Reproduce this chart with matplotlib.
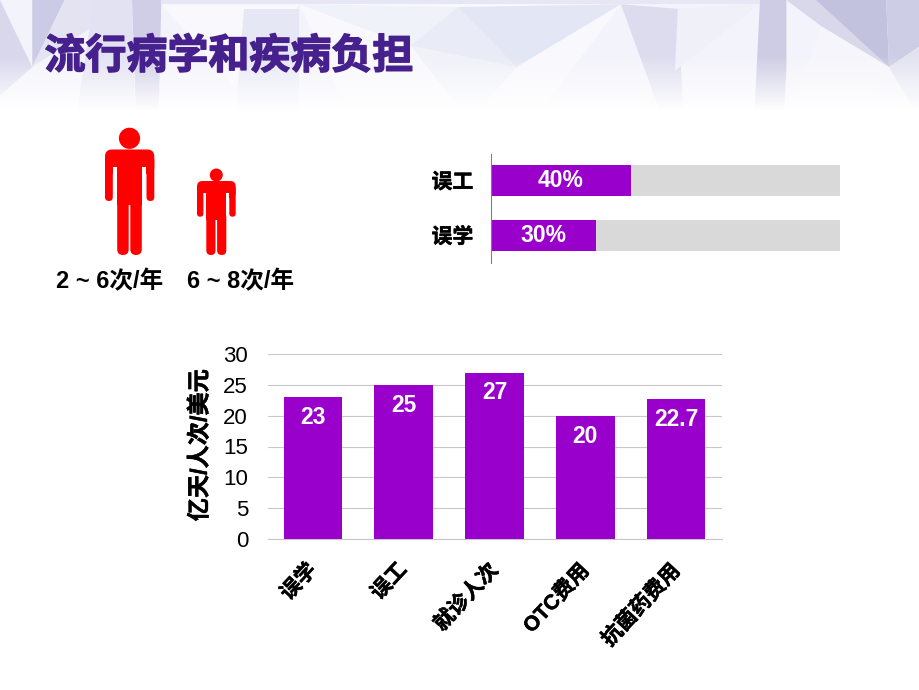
import numpy as np
import matplotlib
matplotlib.use("Agg")
import matplotlib.pyplot as plt
from matplotlib.patches import Polygon, Circle, FancyBboxPatch, Rectangle
from matplotlib.transforms import ScaledTranslation
import matplotlib.patheffects as pe

FONT = ['Liberation Sans', 'Noto Sans CJK SC', 'DejaVu Sans']
plt.rcParams['font.family'] = FONT

TITLE = '流行病学和疾病负担'
bar_cats = ['误学', '误工', '就诊人次', 'OTC费用', '抗菌药费用']
bar_vals = [23, 25, 27, 20, 22.7]
bar_labels = ['23', '25', '27', '20', '22.7']
y_ticks = [0, 5, 10, 15, 20, 25, 30]
y_title = '亿天/人次/美元'
h_cats = ['误学', '误工']
h_vals = [30, 40]
h_total = [100, 100]
freq_labels = ['2 ~ 6次/年', '6 ~ 8次/年']

PURPLE = '#9900cc'
GRAY = '#d9d9d9'
RED = '#ff0000'

W, H = 920, 690
fig = plt.figure(figsize=(W/100, H/100), dpi=100, facecolor='white')
bold_edge = [pe.withStroke(linewidth=0.35, foreground='black')]

def axpx(x0, y0, x1, y1, **kw):
    return fig.add_axes([x0/W, 1-y1/H, (x1-x0)/W, (y1-y0)/H], **kw)

# ---- decorative background, in pixel coordinates
bg = fig.add_axes([0, 0, 1, 1], zorder=0)
bg.set_xlim(0, W); bg.set_ylim(H, 0); bg.axis('off')
bg.add_patch(Rectangle((0, 0), W, 118, fc='#f3f3fb', ec='none'))
facets = [
    ([(0,0),(55,190),(0,270)], '#d8d7ec'),
    ([(55,0),(110,0),(55,190)], '#cbcbe5'),
    ([(110,0),(225,0),(55,190)], '#e4e3f2'),
    ([(160,0),(225,0),(230,330),(130,330)], '#e3e2f2'),
    ([(225,0),(275,0),(270,340),(232,340)], '#d0cee7'),
    ([(275,0),(1295,0),(1295,12),(275,12)], '#e7e6f4'),
    ([(275,12),(510,12),(400,250)], '#f8f8fd'),
    ([(415,25),(510,25),(510,340),(400,340)], '#e6e7f4'),
    ([(510,12),(1058,12),(910,340),(600,340)], '#f8f8fd'),
    ([(510,12),(780,20),(700,130)], '#f0f2f9'),
    ([(780,20),(1058,12),(880,190)], '#e3e6f4'),
    ([(780,20),(880,190),(700,130)], '#e9ebf6'),
    ([(700,130),(880,190),(800,340)], '#f0f1f9'),
    ([(1058,12),(1155,25),(1165,340),(1130,340)], '#dcdcee'),
    ([(1155,25),(1295,10),(1150,200)], '#f0f0f9'),
    ([(1295,0),(1340,0),(1340,200),(1335,340),(1285,340)], '#cdcce4'),
    ([(1340,0),(1390,0),(1515,190),(1400,75)], '#d9d8eb'),
    ([(1390,0),(1510,0),(1515,190)], '#c2c2df'),
    ([(1510,0),(1568,0),(1568,130),(1515,190)], '#cdcde5'),
    ([(1400,75),(1515,190),(1460,340),(1340,340)], '#f5f5fb'),
    ([(1515,190),(1568,130),(1568,340)], '#e2e2f1'),
]
# facet outlines were read from the 1568x340 zoom of the header band
for pts, c in facets:
    bg.add_patch(Polygon([(x/1.704, y/2.83) for x, y in pts], closed=True, fc=c, ec='none'))
# fade to white
fade = np.zeros((120, 2, 4)); fade[..., :3] = 1
fade[..., 3] = np.clip((np.arange(120)-55)/55, 0, 1)[:, None]
bg.imshow(fade, extent=(0, W, 120, 0), aspect='auto', zorder=3)
bg.add_patch(Rectangle((0, 112), W, H-112, fc='white', ec='none', zorder=4))
bg.set_xlim(0, W); bg.set_ylim(H, 0)

bg.text(44.5, 56.5, TITLE, fontsize=29.5, fontweight='black', color='#46208c',
        ha='left', va='center', zorder=6, family=['Noto Sans CJK SC'],
        path_effects=[pe.withStroke(linewidth=1.0, foreground='#46208c')])

# ---- person pictograms
def person(ax, cx, head_y, r, top, l, ri, inner, arm_bot, torso_half, split, bot, arm_w, sh_r):
    kw = dict(fc=RED, ec='none', zorder=5)
    ax.add_patch(Circle((cx, head_y), r, **kw))
    def rrect(x0, y0, x1, y1, pad):
        ax.add_patch(FancyBboxPatch((x0+pad, y0+pad), x1-x0-2*pad, y1-y0-2*pad,
                                    boxstyle=f'round,pad={pad}', **kw))
    rrect(l, top, ri, inner+sh_r, sh_r)
    ax.add_patch(Rectangle((l+arm_w, inner), ri-l-2*arm_w, 2*sh_r, fc='white', ec='none', zorder=5))
    rrect(l, top+sh_r, l+arm_w, arm_bot, arm_w/2)
    rrect(ri-arm_w, top+sh_r, ri, arm_bot, arm_w/2)
    ax.add_patch(Rectangle((cx-torso_half, top+2), 2*torso_half, split-top, **kw))
    leg = torso_half-0.8
    rrect(cx-torso_half, split-5, cx-0.8, bot, leg/2)
    rrect(cx+0.8, split-5, cx+torso_half, bot, leg/2)

person(bg, 129.5, 138.3, 10.6, 149.5, 105, 154.3, 167, 201, 12.3, 202.5, 255, 7.8, 7)
person(bg, 216.3, 175, 6.5, 181, 197, 235.7, 192.7, 216.7, 10, 217.7, 255, 6.4, 5.5)

for x, s in zip([110, 241], freq_labels):
    bg.text(x, 282, s, fontsize=17, fontweight='bold', ha='center', va='center',
            color='black', zorder=6, family=FONT)

# ---- horizontal bars
ax1 = axpx(491, 153.5, 840, 262.5, zorder=2)
ax1.patch.set_alpha(0)
y = np.arange(len(h_cats))
ax1.barh(y, h_total, height=0.57, color=GRAY)
ax1.barh(y, h_vals, height=0.57, color=PURPLE)
ax1.set_xlim(0, 100); ax1.set_ylim(-0.5, 1.5)
ax1.set_yticks(y, h_cats, fontsize=15, fontweight='bold', path_effects=bold_edge)
ax1.set_xticks([])
ax1.tick_params(axis='y', length=0, pad=12.7)
for k, sp in ax1.spines.items():
    sp.set_visible(k == 'left')
ax1.spines['left'].set_color('#808080'); ax1.spines['left'].set_linewidth(0.8)
for yi, v in zip(y, h_vals):
    ax1.text(v/2, yi, f'{v}%', color='white', fontsize=16.5, fontweight='bold',
             ha='center', va='center')

# ---- vertical bars
ax2 = axpx(267.5, 354, 721.5, 539, zorder=2)
ax2.patch.set_alpha(0)
x = np.arange(len(bar_cats))
ax2.bar(x, bar_vals, width=0.645, color=PURPLE, zorder=3)
ax2.set_xlim(-0.5, 4.5); ax2.set_ylim(0, 30)
ax2.set_yticks(y_ticks)
ax2.tick_params(axis='y', labelsize=16, length=0, pad=14)
ax2.grid(axis='y', color='#c8c8c8', lw=0.8, zorder=0)
ax2.set_axisbelow(True)
ax2.set_xticks(x, bar_cats, rotation=47, ha='right', va='top',
               rotation_mode='anchor', fontsize=15, fontweight='bold',
               path_effects=bold_edge)
ax2.tick_params(axis='x', length=0, pad=15)
shift = ScaledTranslation(-7/100, 0, fig.dpi_scale_trans)
for lab in ax2.get_xticklabels():
    lab.set_transform(lab.get_transform() + shift)
for k, sp in ax2.spines.items():
    sp.set_visible(k == 'bottom')
ax2.spines['bottom'].set_color('#c8c8c8'); ax2.spines['bottom'].set_linewidth(0.8)
for xi, v, s in zip(x, bar_vals, bar_labels):
    ax2.text(xi, v-3.3, s, color='white', fontsize=16.5, fontweight='bold',
             ha='center', va='center', zorder=4)
fig.text(200/W, 1-445.5/H, y_title, rotation=90, fontsize=16.7, fontweight='bold',
         ha='center', va='center', family=FONT, path_effects=bold_edge)

fig.savefig('out.png', dpi=100, facecolor='white')
